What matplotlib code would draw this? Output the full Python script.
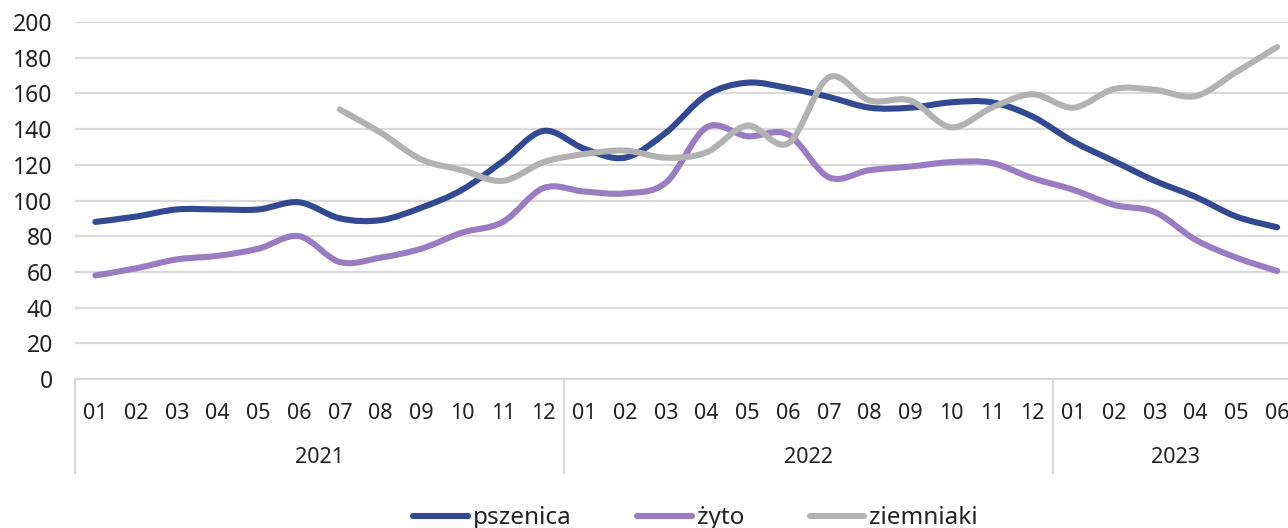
import matplotlib
matplotlib.use("Agg")
import matplotlib.pyplot as plt
from matplotlib.path import Path
from matplotlib.patches import PathPatch
from matplotlib.lines import Line2D
import matplotlib.transforms as mtransforms
import numpy as np

plt.rcParams["font.family"] = ["Noto Sans", "DejaVu Sans"]

# months 01/2021 .. 06/2023
months = ["01", "02", "03", "04", "05", "06", "07", "08", "09", "10", "11", "12"] * 2 + \
         ["01", "02", "03", "04", "05", "06"]
years = ["2021", "2022", "2023"]
year_lengths = [12, 12, 6]

pszenica = [88, 91, 95, 95, 95, 99, 90, 89, 96, 106, 122, 139,
            129, 124, 138, 159, 166, 163, 158, 152, 152, 155, 155, 147,
            133, 122, 111, 102, 91, 85]
zyto = [58, 62, 67, 69, 73, 80, 65.5, 68, 73, 82, 88, 107,
        105, 104, 110, 141, 136, 137, 113, 117, 119, 121.5, 121, 112.5,
        106, 97.5, 93.5, 78, 68, 60.5]
# ziemniaki starts in 07/2021
ziemniaki_start = 6
ziemniaki = [151, 138, 123, 117, 111, 121.5,
             126, 128, 124, 127, 142, 132, 169, 156, 156, 141, 152, 159.5,
             152, 162.5, 162, 158.5, 172, 186]

series = [
    ("pszenica", pszenica, 0, "#334A92"),
    ("żyto", zyto, 0, "#9A7CC2"),
    ("ziemniaki", ziemniaki, ziemniaki_start, "#B2B2B2"),
]


def smooth_path(xs, ys):
    # Excel-like smoothed line: cubic Bezier through every point
    pts = np.column_stack([xs, ys]).astype(float)
    ext = np.vstack([pts[0], pts, pts[-1]])
    verts = [pts[0]]
    codes = [Path.MOVETO]
    for i in range(len(pts) - 1):
        p0, p1, p2, p3 = ext[i], ext[i + 1], ext[i + 2], ext[i + 3]
        c1 = p1 + (p2 - p0) / 6.0
        c2 = p2 - (p3 - p1) / 6.0
        verts += [c1, c2, p2]
        codes += [Path.CURVE4] * 3
    return Path(verts, codes)


fig = plt.figure(figsize=(12.88, 5.28), dpi=100)
ax = fig.add_axes([75 / 1288, 149 / 528, 1222.5 / 1288, 357 / 528])

grid_color = "#D9D9D9"
text_color = "#222222"
for name, vals, start, color in series:
    xs = np.arange(start, start + len(vals))
    patch = PathPatch(smooth_path(xs, vals), facecolor="none", edgecolor=color,
                      lw=4.4, capstyle="round", joinstyle="round", zorder=3)
    ax.add_patch(patch)

ax.set_xlim(-0.5, len(months) - 0.5)
ax.set_ylim(0, 200)
ax.set_yticks(range(0, 201, 20))
ax.yaxis.grid(True, color=grid_color, lw=1.6)
ax.set_axisbelow(True)
for s in ["top", "right", "left"]:
    ax.spines[s].set_visible(False)
ax.spines["bottom"].set_color(grid_color)
ax.spines["bottom"].set_linewidth(1.6)
ax.tick_params(axis="y", length=0, pad=16, labelsize=16.5, labelcolor=text_color)
ax.tick_params(axis="x", length=0, pad=17, labelsize=15.5, labelcolor=text_color)
ax.set_xticks(range(len(months)))
ax.set_xticklabels(months)

# year labels and separators below the axis
trans = mtransforms.blended_transform_factory(ax.transData, ax.transAxes)
bounds = [-0.5]
for yl in year_lengths:
    bounds.append(bounds[-1] + yl)
for b in bounds[:-1]:
    ax.add_line(Line2D([b, b], [0, -0.263], transform=trans, color=grid_color,
                       lw=1.6, clip_on=False))
for i, y in enumerate(years):
    ax.text((bounds[i] + bounds[i + 1]) / 2, -0.221, y, transform=trans,
            ha="center", va="center", fontsize=15.5, color=text_color)

handles = [Line2D([], [], color=c, lw=4.4, solid_capstyle="round") for _, _, _, c in series]
labels = [n for n, _, _, _ in series]
fig.legend(handles, labels, loc="center", bbox_to_anchor=(0.54, 0.018), ncol=3,
           frameon=False, fontsize=17.5, handlelength=2.25, handletextpad=0.2,
           columnspacing=2.7, labelcolor=text_color)

fig.savefig("out.png", dpi=100)
